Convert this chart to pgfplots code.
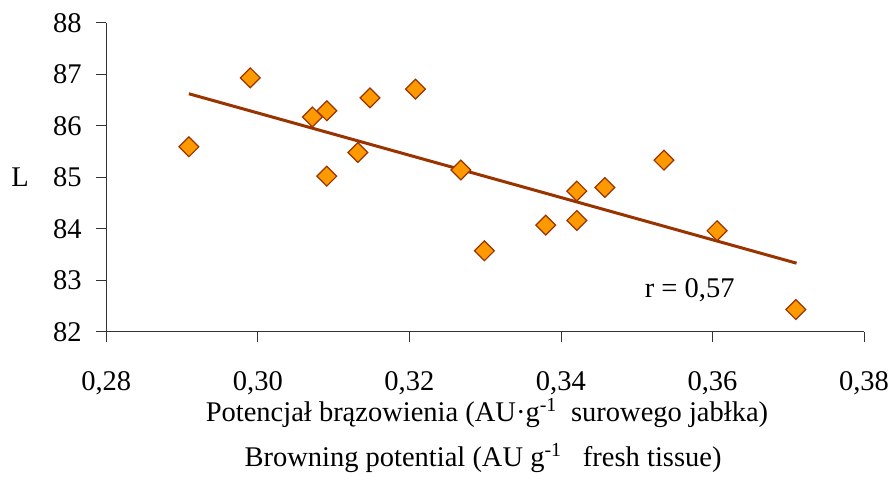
\documentclass[border=0pt]{standalone}
\usepackage{pgfplots}
\pgfplotsset{compat=1.18}
\usepackage{fontspec}
\setmainfont{Liberation Serif}
\definecolor{mkfill}{HTML}{FF9900}
\definecolor{mkedge}{HTML}{993300}
\newcommand{\fs}{\fontsize{28.5}{32}\selectfont}
\begin{document}
\fs
\begin{tikzpicture}
\path[use as bounding box] (0,0) rectangle (892pt,503pt);
\begin{axis}[
  at={(106.3pt,171.3pt)}, anchor=south west,
  scale only axis, width=757.7pt, height=309pt,
  xmin=0.28, xmax=0.38, ymin=82, ymax=88,
  axis x line*=bottom, axis y line*=left,
  axis line style={line width=0.8pt, draw=black!80},
  every tick/.style={line width=0.8pt, draw=black!80},
  tick align=outside, major tick length=10pt,
  xtick={0.28,0.30,...,0.38}, ytick={82,83,...,88},
  /pgf/number format/assume math mode=true,
  xticklabel style={/pgf/number format/.cd, fixed, fixed zerofill, precision=2, use comma, /tikz/.cd, yshift=-20pt},
  yticklabel style={/pgf/number format/.cd, fixed, precision=0, /tikz/.cd, xshift=-5pt},
  ticklabel style={font=\fs},
  clip=false,
]
\addplot[only marks, mark=square*, mark size=7pt,
  mark options={rotate=45, fill=mkfill, draw=mkedge, line width=1.2pt}] coordinates {
(0.2909,85.59) (0.2990,86.93) (0.3072,86.17) (0.3091,86.29) (0.3091,85.02)
(0.3132,85.48) (0.3148,86.54) (0.3208,86.71) (0.3268,85.14) (0.3299,83.57)
(0.3380,84.07) (0.3421,84.73) (0.3421,84.16) (0.3458,84.80) (0.3536,85.33)
(0.3606,83.96) (0.3710,82.43)
};
\addplot[draw=mkedge, line width=3pt] coordinates {(0.2909,86.62) (0.3711,83.33)};
\node[font=\fs] at (axis cs:0.3570,82.81) {r = 0,57};
\end{axis}
\node[font=\fs] at (20pt,326pt) {L};
\node[font=\fs] at (487pt,90pt) {Potencjał brązowienia (AU·g\textsuperscript{-1}\ \ surowego jabłka)};
\node[font=\fs] at (483pt,45pt) {Browning potential (AU g\textsuperscript{-1}\ \ \ fresh tissue)};
\end{tikzpicture}
\end{document}
